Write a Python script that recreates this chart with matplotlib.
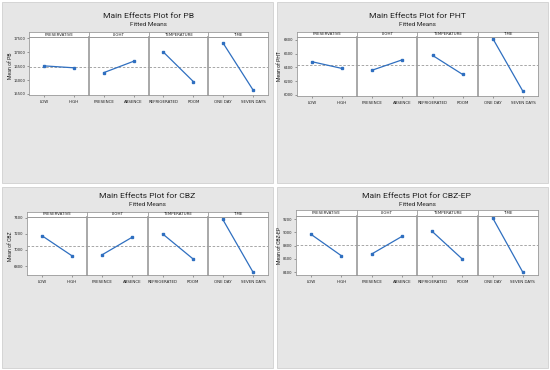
import matplotlib
matplotlib.use("Agg")
import matplotlib.pyplot as plt
from matplotlib.patches import Rectangle

factors = ["PRESERVATIVE", "LIGHT", "TEMPERATURE", "TIME"]
levels = [["LOW", "HIGH"], ["PRESENCE", "ABSENCE"], ["REFRIGERATED", "ROOM"], ["ONE DAY", "SEVEN DAYS"]]

pb_means = [[16510, 16440], [16265, 16675], [17005, 15945], [17325, 15640]]
pht_means = [[6483, 6385], [6361, 6512], [6575, 6298], [6820, 6053]]
cbz_means = [[7176, 6926], [6942, 7160], [7200, 6893], [7378, 6727]]
cbzep_means = [[8969, 8646], [8672, 8938], [9015, 8595], [9220, 8395]]
grand_means = [16476, 6437, 7051, 8807]

pb_ticks = [15500, 16000, 16500, 17000, 17500]
pht_ticks = [6000, 6200, 6400, 6600, 6800]
cbz_ticks = [6800, 7000, 7200, 7400]
cbzep_ticks = [8400, 8600, 8800, 9000, 9200]

names = ["PB", "PHT", "CBZ", "CBZ-EP"]

title_font = "Roboto"

W, H = 550, 370
fig = plt.figure(figsize=(5.5, 3.7), dpi=100)
fig.patch.set_facecolor("white")

def fx(px):
    return px / W

def fy(py):
    return 1 - py / H

# panel layout in pixels: bg box, plot left/right, strip top, plot top, plot bottom, title y, ylabel x
panels = [
    dict(bg=(2, 2, 273, 183), l=29, r=268, st=32, top=37, bot=95, ty=16, yl=11, ylim=(15460, 17550)),
    dict(bg=(277, 2, 548, 183), l=297, r=538, st=31.5, top=36.5, bot=96, ty=16, yl=280, ylim=(5985, 6850)),
    dict(bg=(2, 187, 273, 368), l=27, r=268, st=211.5, top=216.5, bot=275, ty=196, yl=10.5, ylim=(6690, 7415)),
    dict(bg=(277, 187, 548, 368), l=296, r=538, st=210, top=215.5, bot=275, ty=196, yl=279.5, ylim=(8355, 9255)),
]
all_means = [pb_means, pht_means, cbz_means, cbzep_means]
all_ticks = [pb_ticks, pht_ticks, cbz_ticks, cbzep_ticks]

blue = "#2f6fc0"
edge = "#9a9a9a"

for k, p in enumerate(panels):
    x0, y0, x1, y1 = p["bg"]
    fig.patches.append(Rectangle((fx(x0), fy(y1)), fx(x1 - x0), (y1 - y0) / H,
                                 transform=fig.transFigure, facecolor="#e6e6e6",
                                 edgecolor="#d0d0d0", linewidth=0.6, zorder=-10))
    cx = fx((p["l"] + p["r"]) / 2)
    fig.text(cx, fy(p["ty"]), "Main Effects Plot for " + names[k], ha="center", va="center",
             fontsize=6.1, color="#222222", family=title_font)
    fig.text(cx, fy(p["ty"] + 9), "Fitted Means", ha="center", va="center",
             fontsize=4.6, color="#222222", family=title_font)
    fig.text(fx(p["yl"]), fy((p["top"] + p["bot"]) / 2), "Mean of " + names[k], rotation=90,
             ha="center", va="center", fontsize=3.7, color="#222222", family=title_font)

    fw = (p["r"] - p["l"]) / 4
    for j in range(4):
        left = p["l"] + j * fw
        ax = fig.add_axes([fx(left), fy(p["bot"]), fx(fw), (p["bot"] - p["top"]) / H])
        ax.set_facecolor("white")
        ax.plot([0, 1], all_means[k][j], color=blue, linewidth=0.9, marker="s",
                markersize=2, zorder=3)
        ax.axhline(grand_means[k], color="#999999", linestyle=(0, (3, 2)), linewidth=0.6, zorder=1)
        ax.set_xlim(-0.5, 1.5)
        ax.set_ylim(*p["ylim"])
        ax.set_xticks([0, 1])
        ax.set_xticklabels(levels[j], fontsize=2.9, color="#222222")
        ax.tick_params(axis="x", length=1.5, width=0.4, pad=2, color="#555555")
        if j == 0:
            ax.set_yticks(all_ticks[k])
            ax.set_yticklabels([str(t) for t in all_ticks[k]], fontsize=2.7, color="#222222")
            ax.tick_params(axis="y", length=1.5, width=0.4, pad=1.2, color="#555555")
        else:
            ax.set_yticks([])
        for side in ["top", "bottom", "left", "right"]:
            ax.spines[side].set_color(edge)
            ax.spines[side].set_linewidth(0.6)
        if j > 0:
            ax.spines["left"].set_linewidth(1.2)
        # strip header
        sax = fig.add_axes([fx(left), fy(p["top"]), fx(fw), (p["top"] - p["st"]) / H])
        sax.set_facecolor("white")
        sax.set_xticks([])
        sax.set_yticks([])
        for side in ["top", "bottom", "left", "right"]:
            sax.spines[side].set_color(edge)
            sax.spines[side].set_linewidth(0.6)
        sax.text(0.5, 0.5, factors[j], ha="center", va="center", fontsize=2.9,
                 color="#222222", transform=sax.transAxes)

fig.savefig("out.png", dpi=100)
